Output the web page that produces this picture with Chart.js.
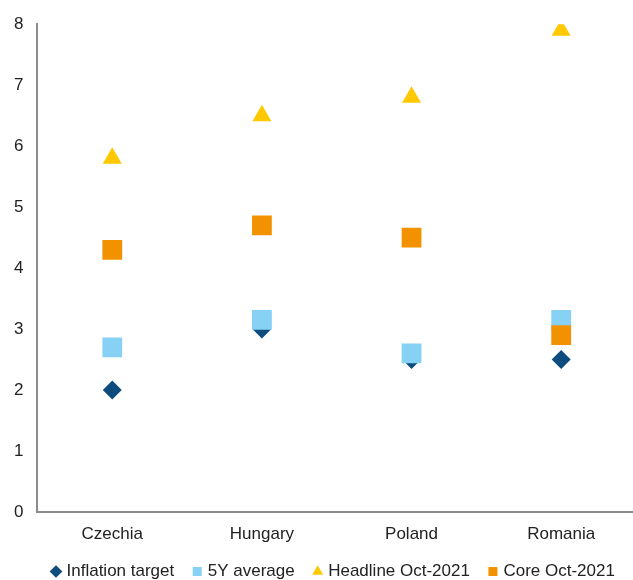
<!DOCTYPE html>
<html>
<head>
<meta charset="utf-8">
<script src="https://cdn.jsdelivr.net/npm/chart.js@4.4.1/dist/chart.umd.min.js"></script>
<style>
    html, body { margin: 0; padding: 0; background: #fff; overflow: hidden; }
    canvas { display: block; }
</style>
</head>
<body>
<canvas id="meuGrafico" width="650" height="610"></canvas>
<script>
// Dados do gráfico
const countries = ["Czechia", "Hungary", "Poland", "Romania"];
const inflationTarget = [2.0, 3.0, 2.5, 2.5];
const avg5y = [2.7, 3.15, 2.6, 3.15];
const headline = [5.8, 6.5, 6.8, 7.9];
const core = [4.3, 4.7, 4.5, 2.9];

const FONT = "'Liberation Sans', Arial, sans-serif";
const AXIS_COLOR = "#8c8c8c";

Chart.defaults.font.family = FONT;
Chart.defaults.font.size = 17;
Chart.defaults.color = "#222";

// desloca a legenda (mais à esquerda e mais acima), como no original
const legendShift = {
    id: "legendShift",
    afterLayout(chart) {
        chart.legend.left = 33;
        chart.legend.top -= 14;
    },
};

function serie(label, data, color, style, radius, order) {
    return {
        label: label,
        data: data,
        showLine: false,
        pointStyle: style,
        pointRadius: radius,
        pointHoverRadius: radius,
        pointBackgroundColor: color,
        pointBorderWidth: 0,
        backgroundColor: color,
        borderColor: color,
        borderWidth: 0,
        order: order,
    };
}

const ctx = document.getElementById("meuGrafico").getContext("2d");
new Chart(ctx, {
    type: "line",
    data: {
        labels: countries,
        datasets: [
            serie("Inflation target", inflationTarget, "#0e4c7d", "rectRot", 9.5, 3),
            serie("5Y average", avg5y, "#87d1f5", "rect", 14, 2),
            serie("Headline Oct-2021", headline, "#ffc800", "triangle", 11, 1),
            serie("Core Oct-2021", core, "#f39200", "rect", 14, 0),
        ],
    },
    options: {
        responsive: false,
        animation: false,
        layout: {
            padding: { top: 21, left: 0, right: 3, bottom: 6 },
        },
        scales: {
            x: {
                offset: true,
                grid: { display: true, drawOnChartArea: false, drawTicks: false },
                border: { display: true, color: AXIS_COLOR, width: 2 },
                ticks: { padding: 13.5, font: { lineHeight: 1 } },
            },
            y: {
                min: 0,
                max: 8,
                ticks: { stepSize: 1, padding: 14 },
                grid: { display: true, drawOnChartArea: false, drawTicks: false },
                border: { display: true, color: AXIS_COLOR, width: 2 },
            },
        },
        plugins: {
            legend: {
                position: "bottom",
                align: "start",
                labels: {
                    usePointStyle: true,
                    boxWidth: 4,
                    boxHeight: 9,
                    padding: 21,
                    color: "#222",
                    sort: (a, b) => a.datasetIndex - b.datasetIndex,
                },
            },
            tooltip: { enabled: false },
        },
    },
    plugins: [legendShift],
});
</script>
</body>
</html>
